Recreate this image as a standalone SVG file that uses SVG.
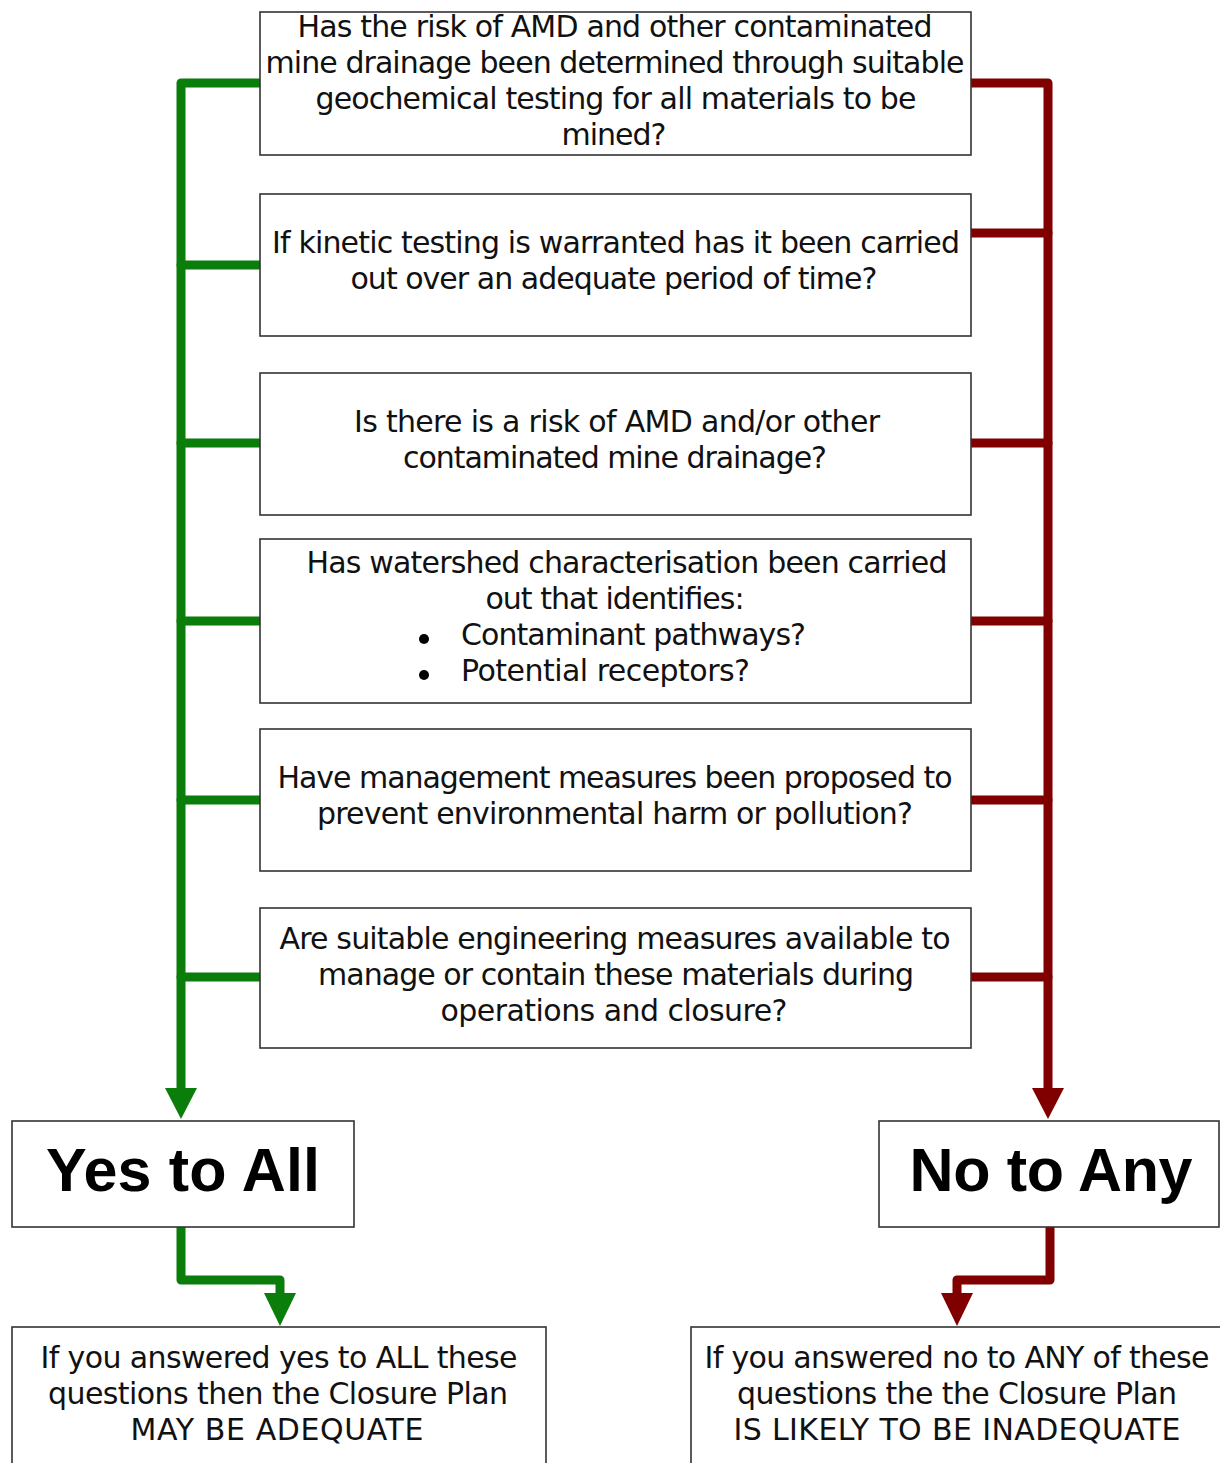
<svg xmlns="http://www.w3.org/2000/svg" width="1220" height="1463" viewBox="0 0 1220 1463">
<defs>
<style>
.box{fill:#fff;stroke:#333;stroke-width:1.6}
.t{font-family:"DejaVu Sans",Verdana,sans-serif;font-size:30px;fill:#111;text-anchor:middle}
.tl{font-family:"DejaVu Sans",Verdana,sans-serif;font-size:30px;fill:#111}
.big{font-family:"Liberation Sans",Arial,sans-serif;font-size:61px;font-weight:bold;fill:#000;text-anchor:middle}
.g{fill:none;stroke:#0b7d0b;stroke-width:9;stroke-linecap:round;stroke-linejoin:round}
.r{fill:none;stroke:#800000;stroke-width:9;stroke-linecap:round;stroke-linejoin:round}
.ga{fill:#0b7d0b}
.ra{fill:#800000}
</style>
</defs>
<rect width="1220" height="1463" fill="#fff"/>
<g id="connectors">
<path class="g" d="M262 83 H181 V1092"/>
<path class="g" d="M181 265 H262 M181 443 H262 M181 621 H262 M181 800 H262 M181 977 H262"/>
<polygon class="ga" points="165,1088 197,1088 181,1119"/>
<path class="r" d="M971 83 H1048 V1092"/>
<path class="r" d="M1048 233 H971 M1048 443 H971 M1048 621 H971 M1048 800 H971 M1048 977 H971"/>
<polygon class="ra" points="1032,1088 1064,1088 1048,1119"/>
<path class="g" d="M181 1226 V1280 H280 V1298"/>
<polygon class="ga" points="264,1293 296,1293 280,1326"/>
<path class="r" d="M1050 1226 V1280 H957 V1298"/>
<polygon class="ra" points="941,1293 973,1293 957,1326"/>
</g>
<g id="q1">
<rect class="box" x="260" y="12" width="711" height="143"/>
<text class="t" x="615" y="37" textLength="635">Has the risk of AMD and other contaminated</text>
<text class="t" x="615" y="73" textLength="699">mine drainage been determined through suitable</text>
<text class="t" x="616" y="109" textLength="601">geochemical testing for all materials to be</text>
<text class="t" x="614" y="145" textLength="105">mined?</text>
</g>
<g id="q2">
<rect class="box" x="260" y="194" width="711" height="142"/>
<text class="t" x="616" y="253" textLength="688">If kinetic testing is warranted has it been carried</text>
<text class="t" x="614" y="289" textLength="527">out over an adequate period of time?</text>
</g>
<g id="q3">
<rect class="box" x="260" y="373" width="711" height="142"/>
<text class="t" x="617" y="432" textLength="526">Is there is a risk of AMD and/or other</text>
<text class="t" x="615" y="468" textLength="424">contaminated mine drainage?</text>
</g>
<g id="q4">
<rect class="box" x="260" y="539" width="711" height="164"/>
<text class="t" x="627" y="573" textLength="641">Has watershed characterisation been carried</text>
<text class="t" x="615" y="609" textLength="259">out that identifies:</text>
<circle cx="424" cy="639" r="5" fill="#000"/>
<text class="tl" x="461" y="645" textLength="345">Contaminant pathways?</text>
<circle cx="424" cy="675" r="5" fill="#000"/>
<text class="tl" x="461" y="681" textLength="289">Potential receptors?</text>
</g>
<g id="q5">
<rect class="box" x="260" y="729" width="711" height="142"/>
<text class="t" x="615" y="788" textLength="675">Have management measures been proposed to</text>
<text class="t" x="615" y="824" textLength="596">prevent environmental harm or pollution?</text>
</g>
<g id="q6">
<rect class="box" x="260" y="908" width="711" height="140"/>
<text class="t" x="615" y="949" textLength="671">Are suitable engineering measures available to</text>
<text class="t" x="616" y="985" textLength="596">manage or contain these materials during</text>
<text class="t" x="614" y="1021" textLength="347">operations and closure?</text>
</g>
<g id="yes">
<rect class="box" x="12" y="1121" width="342" height="106"/>
<text class="big" x="183" y="1191" textLength="274">Yes to All</text>
</g>
<g id="no">
<rect class="box" x="879" y="1121" width="340" height="106"/>
<text class="big" x="1051" y="1191" textLength="283">No to Any</text>
</g>
<g id="yes-result">
<rect class="box" x="12" y="1327" width="534" height="140"/>
<text class="t" x="279" y="1368" textLength="477">If you answered yes to ALL these</text>
<text class="t" x="278" y="1404" textLength="460">questions then the Closure Plan</text>
<text class="t" x="277" y="1440" textLength="293">MAY BE ADEQUATE</text>
</g>
<g id="no-result">
<rect class="box" x="691" y="1327" width="534" height="140"/>
<text class="t" x="957" y="1368" textLength="505">If you answered no to ANY of these</text>
<text class="t" x="957" y="1404" textLength="440">questions the the Closure Plan</text>
<text class="t" x="957" y="1440" textLength="447">IS LIKELY TO BE INADEQUATE</text>
</g>
</svg>
